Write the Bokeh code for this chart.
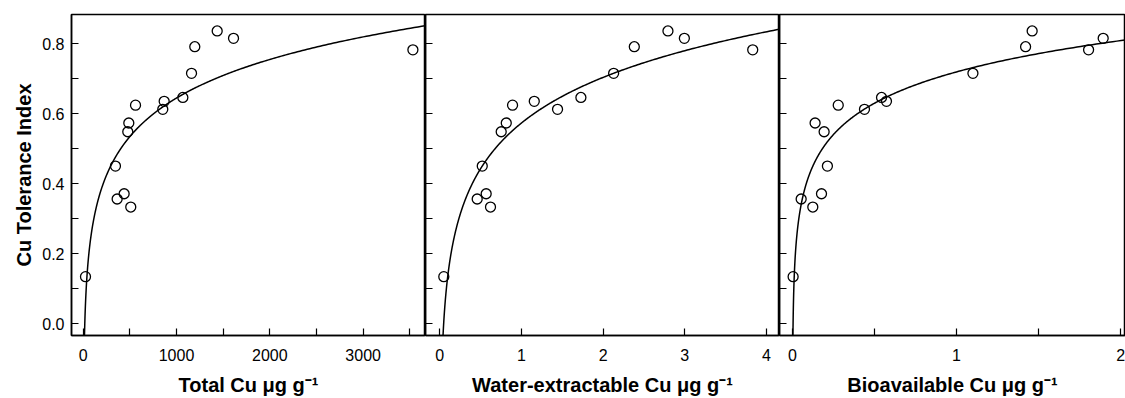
import numpy as np
from bokeh.plotting import figure
from bokeh.layouts import row
from bokeh.models import FixedTicker, Range1d, PrintfTickFormatter
from bokeh.embed import file_html
from bokeh.resources import INLINE

# Cu tolerance index of 16 samples
tolerance = [0.837, 0.816, 0.783, 0.792, 0.716, 0.647, 0.636, 0.613,
             0.625, 0.574, 0.549, 0.451, 0.372, 0.357, 0.334, 0.135]
# Total Cu (ug/g)
total_cu = [1436, 1611, 3533, 1196, 1161, 1068, 868, 853,
            561, 489, 478, 346, 439, 364, 510, 25]
# Water-extractable Cu (ug/g)
water_cu = [2.794, 2.995, 3.832, 2.382, 2.129, 1.728, 1.157, 1.442,
            0.891, 0.814, 0.752, 0.520, 0.568, 0.458, 0.621, 0.049]
# Bioavailable Cu (ug/g)
bio_cu = [1.461, 1.894, 1.805, 1.421, 1.100, 0.543, 0.573, 0.439,
          0.279, 0.138, 0.193, 0.213, 0.177, 0.053, 0.124, 0.004]

# logarithmic fits  y = a + b ln(x)
fit_total = (-0.453, 0.159)
fit_water = (0.574, 0.188)
fit_bio = (0.720, 0.129)

y_ticks = [0.0, 0.2, 0.4, 0.6, 0.8]
y_minor = [0.1, 0.3, 0.5, 0.7]
x_labels = ["Total Cu \u03bcg g\u207b\u00b9",
            "Water-extractable Cu \u03bcg g\u207b\u00b9",
            "Bioavailable Cu \u03bcg g\u207b\u00b9"]
y_label = "Cu Tolerance Index"

Y_RANGE = (-0.033, 0.884)
FONT = "Liberation Sans"
H = 398


def panel(x, fit, xr, xmaj, xmin, xlabel, width, left, first):
    p = figure(width=width, height=H, x_range=Range1d(*xr), y_range=Range1d(*Y_RANGE),
               output_backend="svg", toolbar_location=None,
               min_border_left=left, min_border_right=0, min_border_top=14,
               min_border_bottom=63)
    p.grid.visible = False
    p.outline_line_color = "black"
    p.outline_line_width = 1.5
    p.background_fill_color = "white"
    p.border_fill_color = "white"

    a, b = fit
    x0 = np.exp((Y_RANGE[0] - a) / b)
    xs = np.geomspace(x0, xr[1], 500)
    p.line(xs, a + b * np.log(xs), line_color="black", line_width=1.5)
    p.scatter(x, tolerance, size=10, marker="circle", fill_color=None,
              line_color="black", line_width=1.3)

    xa = p.xaxis[0]
    xa.ticker = FixedTicker(ticks=xmaj, minor_ticks=xmin)
    xa.major_tick_in = 7
    xa.major_tick_out = 0
    xa.minor_tick_in = 7
    xa.minor_tick_out = 0
    xa.major_label_standoff = 13
    xa.major_label_text_font = FONT
    xa.major_label_text_font_size = "16px"
    xa.major_label_text_color = "black"
    xa.axis_label = xlabel
    xa.axis_label_text_font = FONT
    xa.axis_label_text_font_size = "20px"
    xa.axis_label_text_font_style = "bold"
    xa.axis_label_text_color = "black"
    xa.axis_label_standoff = 10
    xa.axis_line_color = "black"
    xa.axis_line_width = 1.5
    xa.major_tick_line_color = "black"
    xa.minor_tick_line_color = "black"
    xa.major_tick_line_width = 1.2
    xa.minor_tick_line_width = 1.2

    ya = p.yaxis[0]
    if first:
        ya.ticker = FixedTicker(ticks=y_ticks, minor_ticks=y_minor)
        ya.formatter = PrintfTickFormatter(format="%.1f")
        ya.major_label_standoff = 7
        ya.major_label_text_font = FONT
        ya.major_label_text_font_size = "16px"
        ya.major_label_text_color = "black"
        ya.axis_label = y_label
        ya.axis_label_text_font = FONT
        ya.axis_label_text_font_size = "20px"
        ya.axis_label_text_font_style = "bold"
        ya.axis_label_text_color = "black"
        ya.axis_label_standoff = 4
    else:
        ya.ticker = FixedTicker(ticks=[], minor_ticks=y_ticks + y_minor)
        ya.major_label_standoff = 0
    ya.major_tick_in = 7
    ya.major_tick_out = 0
    ya.minor_tick_in = 7
    ya.minor_tick_out = 0
    ya.axis_line_color = "black"
    ya.axis_line_width = 1.5
    ya.major_tick_line_color = "black"
    ya.minor_tick_line_color = "black"
    ya.major_tick_line_width = 1.2
    ya.minor_tick_line_width = 1.2
    return p


p1 = panel(total_cu, fit_total, (-125, 3668), [0, 1000, 2000, 3000],
           [500, 1500, 2500, 3500], x_labels[0], 425, 71, True)
p2 = panel(water_cu, fit_water, (-0.175, 4.16), [0, 1, 2, 3, 4], [],
           x_labels[1], 354, 0, False)
p3 = panel(bio_cu, fit_bio, (-0.079, 2.03), [0, 1, 2], [0.5, 1.5],
           x_labels[2], 346, 0, False)

layout = row(p1, p2, p3, spacing=0)
open("out.html", "w").write(file_html(layout, INLINE))
